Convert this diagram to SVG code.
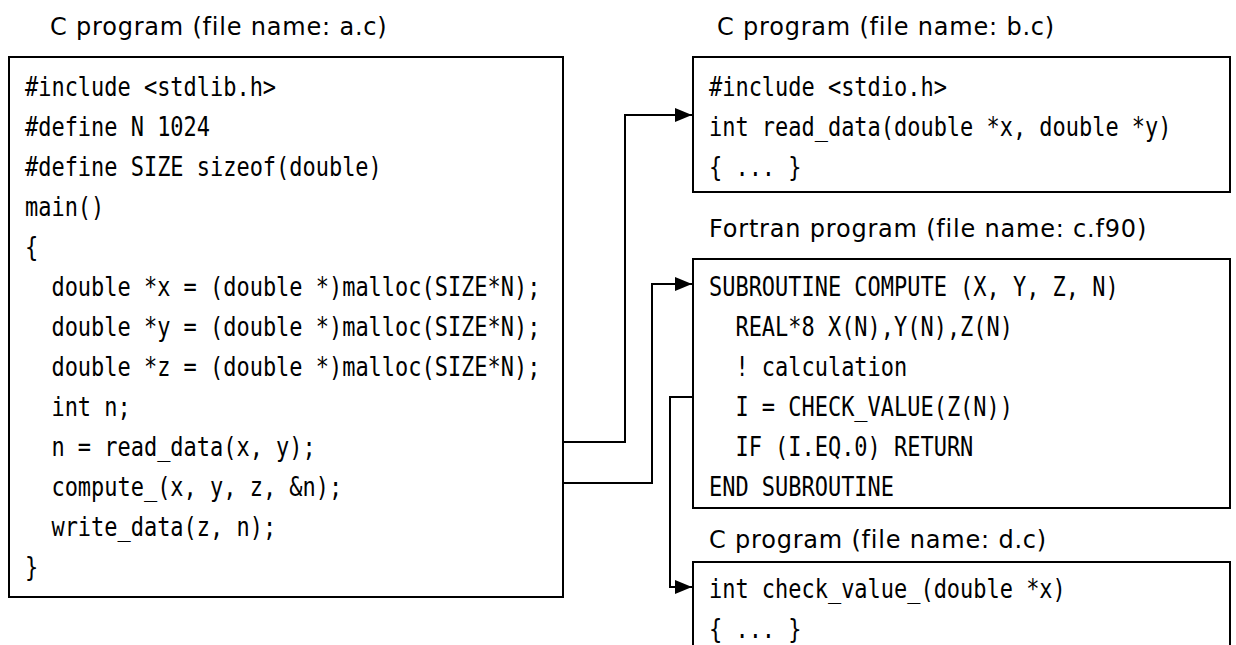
<svg xmlns="http://www.w3.org/2000/svg" width="1236" height="645" viewBox="0 0 1236 645">
<defs>
<style>
.title{font-family:"DejaVu Sans",sans-serif;font-size:24px;letter-spacing:0.8px;fill:#000}
.code{font-family:"DejaVu Sans Mono",monospace;font-size:26px;fill:#000}
.box{fill:#fff;stroke:#000;stroke-width:2}
.conn{fill:none;stroke:#000;stroke-width:2}
</style>
<marker id="arr" markerUnits="userSpaceOnUse" markerWidth="18" markerHeight="14" refX="17" refY="7" orient="auto"><path d="M0,0 L17,7 L0,14 z" fill="#000"/></marker>
</defs>
<rect width="1236" height="645" fill="#fff"/>
<g id="node-a">
<text class="title" x="50" y="35">C program (file name: a.c)</text>
<rect class="box" x="9" y="57" width="554" height="540"/>
<g class="code" transform="translate(25 0) scale(0.845 1)">
<text x="0" y="96">#include &lt;stdlib.h&gt;</text>
<text x="0" y="136">#define N 1024</text>
<text x="0" y="176">#define SIZE sizeof(double)</text>
<text x="0" y="216">main()</text>
<text x="0" y="256">{</text>
<text x="31.3" y="296">double *x = (double *)malloc(SIZE*N);</text>
<text x="31.3" y="336">double *y = (double *)malloc(SIZE*N);</text>
<text x="31.3" y="376">double *z = (double *)malloc(SIZE*N);</text>
<text x="31.3" y="416">int n;</text>
<text x="31.3" y="456">n = read_data(x, y);</text>
<text x="31.3" y="496">compute_(x, y, z, &amp;n);</text>
<text x="31.3" y="536">write_data(z, n);</text>
<text x="0" y="576">}</text>
</g>
</g>
<g id="node-b">
<text class="title" x="717" y="35">C program (file name: b.c)</text>
<rect class="box" x="693" y="57" width="537" height="135"/>
<g class="code" transform="translate(709 0) scale(0.845 1)">
<text x="0" y="96">#include &lt;stdio.h&gt;</text>
<text x="0" y="136">int read_data(double *x, double *y)</text>
<text x="0" y="176">{ ... }</text>
</g>
</g>
<g id="node-c">
<text class="title" x="709" y="237">Fortran program (file name: c.f90)</text>
<rect class="box" x="693" y="259" width="537" height="249"/>
<g class="code" transform="translate(709 0) scale(0.845 1)">
<text x="0" y="296">SUBROUTINE COMPUTE (X, Y, Z, N)</text>
<text x="31.3" y="336">REAL*8 X(N),Y(N),Z(N)</text>
<text x="31.3" y="376">! calculation</text>
<text x="31.3" y="416">I = CHECK_VALUE(Z(N))</text>
<text x="31.3" y="456">IF (I.EQ.0) RETURN</text>
<text x="0" y="496">END SUBROUTINE</text>
</g>
</g>
<g id="node-d">
<text class="title" x="709" y="548">C program (file name: d.c)</text>
<rect class="box" x="693" y="562" width="537" height="130"/>
<g class="code" transform="translate(709 0) scale(0.845 1)">
<text x="0" y="598">int check_value_(double *x)</text>
<text x="0" y="638">{ ... }</text>
</g>
</g>
<g id="connectors">
<path class="conn" d="M563,442 H625 V115 H692" marker-end="url(#arr)"/>
<path class="conn" d="M563,483 H652 V284 H692" marker-end="url(#arr)"/>
<path class="conn" d="M693,397 H670 V587 H692" marker-end="url(#arr)"/>
</g>
</svg>
